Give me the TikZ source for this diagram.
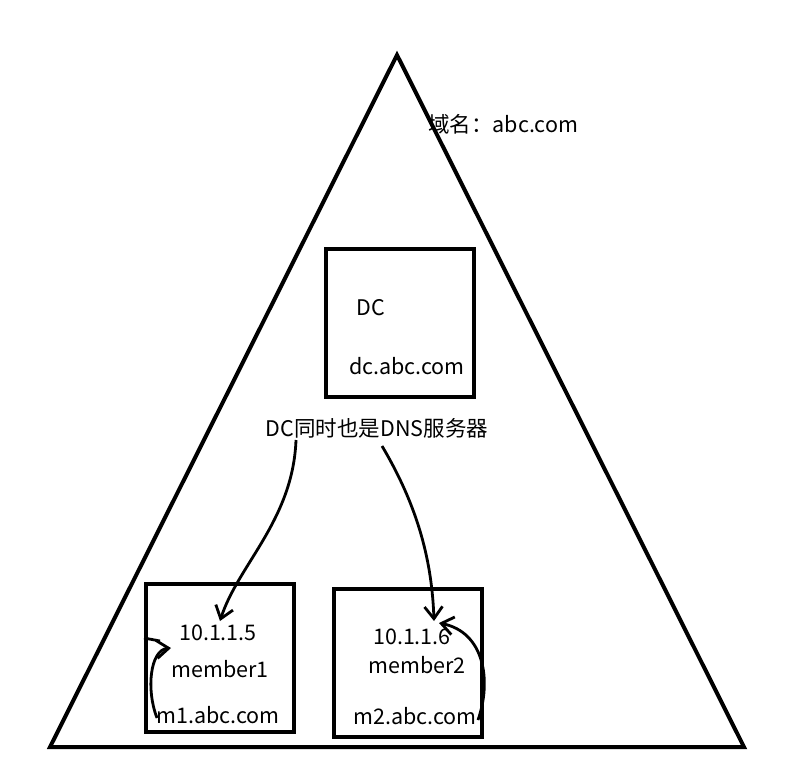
\documentclass[tikz,border=0pt]{standalone}
\usepackage{fontspec}
\setmainfont{Noto Sans CJK SC}
\usetikzlibrary{arrows.meta}

\begin{document}
\begin{tikzpicture}[x=1pt,y=-1pt,
  box/.style={draw,line width=4pt,minimum width=148pt,minimum height=148pt},
  lbl/.style={inner sep=2pt,font=\fontsize{21.5pt}{25pt}\selectfont},
  link/.style={line width=2.8pt,-{Straight Barb[length=12pt,width=18pt,line width=2.8pt]}}]
  \useasboundingbox (0,0) rectangle (794,770);

% DOMAIN ======================================================================
  \coordinate (top) at (397,55);
  \coordinate (bl) at (50,747);
  \coordinate (br) at (744,747);
  \draw[line width=4pt,line join=miter] (top) -- (br) -- (bl) -- cycle;
  \node[lbl,anchor=west] (dom) at (426,124) {域名：abc.com};

% DC ==========================================================================
  \node[box] (dcbox) at (400,323) {};
  \node[lbl] (dc) at (371,308) {DC};
  \node[lbl] (dcname) at (407,366) {dc.abc.com};
  \node[lbl] (dns) at (377,428) {DC同时也是DNS服务器};

% MEMBERS =====================================================================
  \node[box] (m1box) at (220,658) {};
  \node[lbl] (ip1) at (218,633) {10.1.1.5};
  \node[lbl] (mem1) at (220,669) {member1};
  \node[lbl] (host1) at (218,715) {m1.abc.com};

  \node[box] (m2box) at (408,663) {};
  \node[lbl] (ip2) at (412,637) {10.1.1.6};
  \node[lbl] (mem2) at (417,665) {member2};
  \node[lbl] (host2) at (415,716) {m2.abc.com};

% ARROWS ======================================================================
  \coordinate (s1) at (296,440);
  \coordinate (s2) at (382,446);
  \coordinate (t1) at (220,621);
  \coordinate (t2) at (434,621);
  \draw[link] (s1) .. controls (293,520) and (238,565) .. (t1);
  \draw[link] (s2) .. controls (420,510) and (432,565) .. (t2);

  \coordinate (l1) at (157,718);
  \coordinate (e1) at (171,648);
  \coordinate (l2) at (478,720);
  \coordinate (e2) at (439,623);
  \draw[link] (l1) .. controls (146,690) and (150,650) .. (e1);
  \draw[line width=2.8pt] (m1box.west |- 0,638) -- (160,641);
  \draw[link] (l2) .. controls (492,680) and (484,632) .. (e2);

\end{tikzpicture}
\end{document}
